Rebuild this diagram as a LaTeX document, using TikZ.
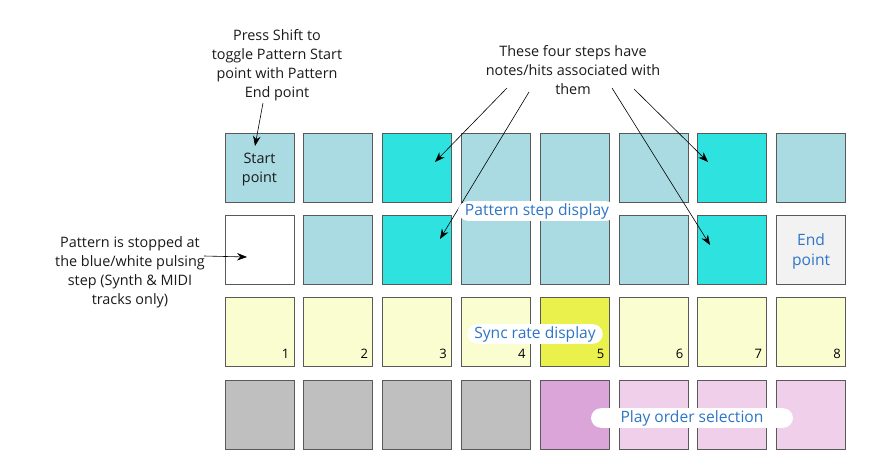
\documentclass[tikz,border=0pt]{standalone}
\usepackage{fontspec}
\setmainfont{Open Sans}
\usetikzlibrary{arrows.meta}

\definecolor{padblue}{HTML}{AADBE3}
\definecolor{padcyan}{HTML}{2EE2E0}
\definecolor{padwhite}{HTML}{FFFFFF}
\definecolor{padend}{HTML}{F2F2F2}
\definecolor{padlyel}{HTML}{FAFDD0}
\definecolor{padyel}{HTML}{EAF04C}
\definecolor{padgrey}{HTML}{BFBFBF}
\definecolor{padpurp}{HTML}{DCA5D9}
\definecolor{padlpurp}{HTML}{EFCFEA}
\definecolor{txtblue}{HTML}{2E75C6}
\definecolor{txtdark}{HTML}{1A1A1A}

\tikzset{
  pad/.style={draw=black!65, line width=0.8pt, minimum size=69pt, inner sep=0pt},
  note/.style={align=center, text=txtdark, font=\fontsize{14.4}{19}\selectfont},
  tag/.style={fill=white, rounded corners=10pt, text=txtblue, inner xsep=7pt, inner ysep=2pt,
    font=\fontsize{15.6}{17}\selectfont},
  num/.style={anchor=south east, inner sep=0pt, font=\fontsize{13}{14}\selectfont},
  pointer/.style={line width=0.6pt, -{Stealth[length=10pt,width=7.5pt]}}
}

\begin{document}
\begin{tikzpicture}[x=1pt, y=-1pt]
    \useasboundingbox (0,0) rectangle (891,468);

    % rij 1: pattern step display (boven)
    \foreach \clr [count=\c] in {padblue,padblue,padcyan,padblue,padblue,padblue,padcyan,padblue}
        \node[pad, fill=\clr] (a\c) at ({259.5+78.8*(\c-1)}, 167.5) {};
    % rij 2
    \foreach \clr [count=\c] in {padwhite,padblue,padcyan,padblue,padblue,padblue,padcyan,padend}
        \node[pad, fill=\clr] (b\c) at ({259.5+78.8*(\c-1)}, 249.8) {};
    % rij 3: sync rate
    \foreach \clr [count=\c] in {padlyel,padlyel,padlyel,padlyel,padyel,padlyel,padlyel,padlyel}
        \node[pad, fill=\clr] (c\c) at ({259.5+78.8*(\c-1)}, 332.1) {};
    % rij 4: play order
    \foreach \clr [count=\c] in {padgrey,padgrey,padgrey,padgrey,padpurp,padlpurp,padlpurp,padlpurp}
        \node[pad, fill=\clr] (d\c) at ({259.5+78.8*(\c-1)}, 414.4) {};

    % nummers in de gele pads
    \foreach \c in {1,...,8}
        \node[num] (n\c) at ([xshift=-5pt, yshift=8pt]c\c.south east) {\c};

    % teksten in de pads
    \node[note] (startpt) at ([yshift=-2.5pt]a1.center) {Start\\point};
    \node[note, text=txtblue, font=\fontsize{15.6}{20}\selectfont] (endpt) at ([yshift=-1.5pt]b8.center) {End\\point};

    % uitleg
    \node[note] (shift) at (277,65.5) {Press Shift to\\toggle Pattern Start\\point with Pattern\\End point};
    \node[note] (steps) at (573,70) {These four steps have\\notes/hits associated with\\them};
    \node[note] (stopped) at (130,272.5) {Pattern is stopped at\\the blue/white pulsing\\step (Synth \& MIDI\\tracks only)};

    % pijlen
    \coordinate (shiftfrom) at (263,103);
    \coordinate (shiftto) at (255,146);
    \coordinate (stopfrom) at (204,256);
    \coordinate (stopto) at (247,257);
    \coordinate (stepfromA) at (507,88);
    \coordinate (stepfromB) at (529,92);
    \coordinate (stepfromC) at (612,88);
    \coordinate (stepfromD) at (634,89);
    \coordinate (steptoA) at (435,162);
    \coordinate (steptoB) at (440,239);
    \coordinate (steptoC) at (710,245);
    \coordinate (steptoD) at (708,162);

    \draw[pointer] (shiftfrom) -- (shiftto);
    \draw[pointer] (stopfrom) -- (stopto);
    \draw[pointer] (stepfromA) -- (steptoA);
    \draw[pointer] (stepfromB) -- (steptoB);
    \draw[pointer] (stepfromC) -- (steptoC);
    \draw[pointer] (stepfromD) -- (steptoD);

    % blauwe labels
    \node[tag] (steplbl) at (537,211) {Pattern step display};
    \node[tag] (synclbl) at (535,334) {Sync rate display};
    \node[tag, minimum width=202pt] (orderlbl) at (692,418) {Play order selection};
\end{tikzpicture}
\end{document}
